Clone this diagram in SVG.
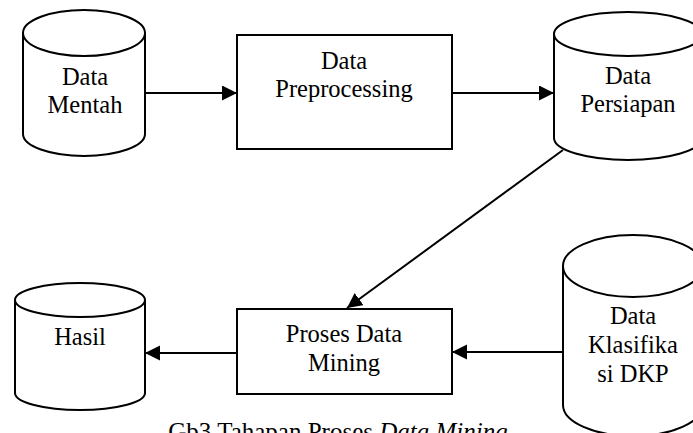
<svg xmlns="http://www.w3.org/2000/svg" width="693" height="433" viewBox="0 0 693 433">
<defs>
<style>
.s{fill:#fff;stroke:#000;stroke-width:2}
.t{font-family:"Liberation Serif","Times New Roman",serif;font-size:24.5px;fill:#000;text-anchor:middle}
.c{fill:none;stroke:#000;stroke-width:2}
</style>
<marker id="ah" markerUnits="userSpaceOnUse" markerWidth="16" markerHeight="16" refX="15" refY="7.5" orient="auto">
<path d="M0,0 L15,7.5 L0,15 Z" fill="#000"/>
</marker>
</defs>
<rect width="693" height="433" fill="#fff"/>
<g id="connectors">
<line class="c" x1="145" y1="93" x2="237" y2="93" marker-end="url(#ah)"/>
<line class="c" x1="452" y1="93" x2="554" y2="93" marker-end="url(#ah)"/>
<line class="c" x1="563" y1="150" x2="347" y2="308" marker-end="url(#ah)"/>
<line class="c" x1="237" y1="353" x2="145" y2="353" marker-end="url(#ah)"/>
<line class="c" x1="563" y1="352" x2="452" y2="352" marker-end="url(#ah)"/>
</g>
<g id="data-mentah">
<path class="s" d="M23,33 L23,134 A61,22 0 0 0 145,134 L145,33"/>
<ellipse class="s" cx="84" cy="33" rx="61" ry="23"/>
<text class="t" x="85" y="85">Data</text>
<text class="t" x="85" y="113">Mentah</text>
</g>
<g id="data-preprocessing">
<rect class="s" x="237" y="35" width="215" height="114"/>
<text class="t" x="344" y="69">Data</text>
<text class="t" x="344" y="97">Preprocessing</text>
</g>
<g id="data-persiapan">
<path class="s" d="M554,34 L554,138 A74,22 0 0 0 702,138 L702,34"/>
<ellipse class="s" cx="628" cy="34" rx="74" ry="22"/>
<text class="t" x="628" y="84">Data</text>
<text class="t" x="628" y="112">Persiapan</text>
</g>
<g id="hasil">
<path class="s" d="M15,300 L15,393 A65,17 0 0 0 145,393 L145,300"/>
<ellipse class="s" cx="80" cy="300" rx="65" ry="17"/>
<text class="t" x="80" y="345">Hasil</text>
</g>
<g id="proses-data-mining">
<rect class="s" x="237" y="309" width="215" height="85"/>
<text class="t" x="344" y="342">Proses Data</text>
<text class="t" x="344" y="371">Mining</text>
</g>
<g id="data-klasifikasi-dkp">
<path class="s" d="M563,266 L563,405 A70,31 0 0 0 703,405 L703,266"/>
<ellipse class="s" cx="633" cy="266" rx="70" ry="31"/>
<text class="t" x="633" y="324">Data</text>
<text class="t" x="633" y="353">Klasifika</text>
<text class="t" x="633" y="382">si DKP</text>
</g>
<text class="t" x="338" y="440" style="font-size:25px">Gb3 Tahapan Proses <tspan font-style="italic">Data Mining</tspan></text>
</svg>
